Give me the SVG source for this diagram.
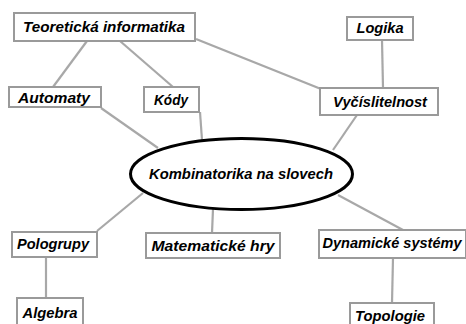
<svg xmlns="http://www.w3.org/2000/svg" width="466" height="324" viewBox="0 0 466 324">
<style>
.box{fill:#fff;stroke:#9a9a9a;stroke-width:2}
.lbl{font-family:"Liberation Sans",Arial,sans-serif;font-weight:bold;font-style:italic;font-size:15px;fill:#000;text-anchor:middle}
.c{stroke:#a8a8a8;stroke-width:2.2;fill:none}
</style>
<rect width="466" height="324" fill="#fff"/>
<g id="connectors">
<line class="c" x1="87" y1="41" x2="53" y2="87"/>
<line class="c" x1="120" y1="41" x2="173" y2="87"/>
<line class="c" x1="196" y1="39" x2="321" y2="89"/>
<line class="c" x1="382" y1="40" x2="383" y2="88"/>
<line class="c" x1="101" y1="108" x2="158" y2="148"/>
<line class="c" x1="200" y1="112" x2="202" y2="140"/>
<line class="c" x1="357" y1="115" x2="333" y2="150"/>
<line class="c" x1="143" y1="193" x2="97" y2="231"/>
<line class="c" x1="213" y1="209" x2="212" y2="233"/>
<line class="c" x1="338" y1="195" x2="403" y2="230"/>
<line class="c" x1="46" y1="257" x2="46" y2="298"/>
<line class="c" x1="393" y1="258" x2="392" y2="303"/>
</g>
<g id="teoreticka"><rect class="box" x="14" y="13" width="181" height="28"/><text class="lbl" x="104" y="32" textLength="162" lengthAdjust="spacingAndGlyphs">Teoretická informatika</text></g>
<g id="logika"><rect class="box" x="347" y="17" width="66" height="23"/><text class="lbl" x="380" y="33" textLength="47" lengthAdjust="spacingAndGlyphs">Logika</text></g>
<g id="automaty"><rect class="box" x="9" y="87" width="92" height="20"/><text class="lbl" x="54" y="103" textLength="72" lengthAdjust="spacingAndGlyphs">Automaty</text></g>
<g id="kody"><rect class="box" x="144" y="87" width="55" height="25"/><text class="lbl" x="171" y="105" textLength="34" lengthAdjust="spacingAndGlyphs">Kódy</text></g>
<g id="vycislitelnost"><rect class="box" x="320" y="88" width="118" height="27"/><text class="lbl" x="380" y="107" textLength="94" lengthAdjust="spacingAndGlyphs">Vyčíslitelnost</text></g>
<g id="kombinatorika"><ellipse cx="241.5" cy="174" rx="111" ry="35.5" fill="#fff" stroke="#000" stroke-width="3"/><text class="lbl" x="241" y="179" textLength="184" lengthAdjust="spacingAndGlyphs">Kombinatorika na slovech</text></g>
<g id="pologrupy"><rect class="box" x="12" y="232" width="85" height="25"/><text class="lbl" x="53" y="249" textLength="72" lengthAdjust="spacingAndGlyphs">Pologrupy</text></g>
<g id="matematicke"><rect class="box" x="146" y="233" width="134" height="25"/><text class="lbl" x="213" y="251" textLength="123" lengthAdjust="spacingAndGlyphs">Matematické hry</text></g>
<g id="dynamicke"><rect class="box" x="319" y="230" width="147" height="28"/><text class="lbl" x="392" y="248" textLength="139" lengthAdjust="spacingAndGlyphs">Dynamické systémy</text></g>
<g id="algebra"><rect class="box" x="17" y="298" width="66" height="30"/><text class="lbl" x="50" y="318" textLength="55" lengthAdjust="spacingAndGlyphs">Algebra</text></g>
<g id="topologie"><rect class="box" x="350" y="303" width="84" height="25"/><text class="lbl" x="390" y="321" textLength="70" lengthAdjust="spacingAndGlyphs">Topologie</text></g>
</svg>
